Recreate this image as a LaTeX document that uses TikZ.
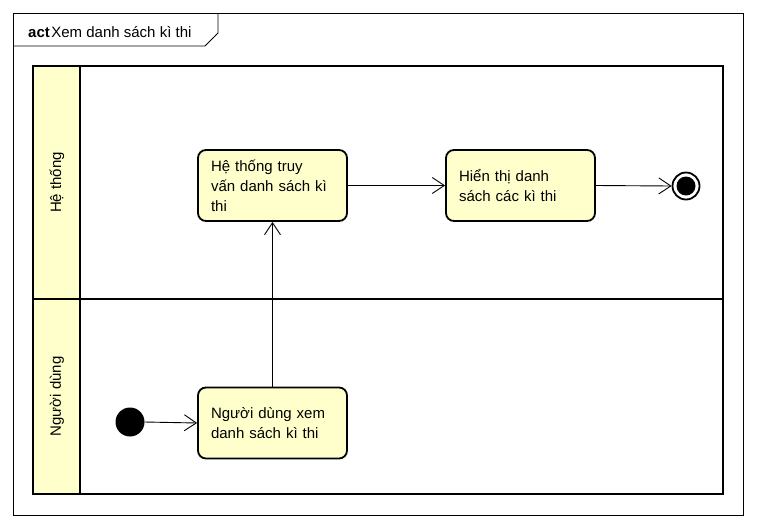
\documentclass[tikz,border=0pt]{standalone}
\usepackage{fontspec}
\setmainfont{Liberation Sans}
\usetikzlibrary{arrows.meta}
\definecolor{actfill}{RGB}{255,255,204}
\begin{document}
\begin{tikzpicture}[x=1pt,y=-1pt,
  font=\fontsize{15}{20}\selectfont,
  actbox/.style={draw,line width=1.8pt,rounded corners=8pt,fill=actfill,
    minimum width=149pt,minimum height=71pt,text width=123pt,inner xsep=13pt,
    align=left},
  flow/.style={line width=0.9pt,-{Straight Barb[length=12pt,width=16pt,line width=0.9pt]}},
  lanelabel/.style={rotate=90,inner sep=0pt},
]
\useasboundingbox (0,0) rectangle (757,528);
% outer frame
\draw[line width=0.9pt] (13,13) rectangle (743,515);
\draw[line width=0.9pt] (13,46) -- (205,46) -- (218,33) -- (218,13);
\node[anchor=base west,inner sep=0pt] (title) at (28,37) {\textbf{act}\hspace{1.5pt}Xem danh sách kì thi};
% swimlanes
\fill[actfill] (33,66) rectangle (80,494);
\draw[line width=1.8pt] (33,66) rectangle (723,494);
\draw[line width=1.8pt] (33,299) -- (723,299);
\draw[line width=1.8pt] (80,66) -- (80,494);
\node[lanelabel] (lane1) at (57,182.5) {Hệ thống};
\node[lanelabel] (lane2) at (57,396.5) {Người dùng};
% nodes
\node[actbox] (b1) at (272.5,185.5) {Hệ thống truy\\vấn danh sách kì\\thi};
\node[actbox] (b2) at (520.5,185.5) {Hiển thị danh\\sách các kì thi};
\node[actbox] (b3) at (272.5,423) {Người dùng xem\\danh sách kì thi};
\node[circle,fill=black,minimum size=29pt,inner sep=0pt] (init) at (130,422) {};
\node[circle,draw,line width=1.8pt,fill=white,minimum size=27pt,inner sep=0pt] (fin) at (686,186) {};
\node[circle,fill=black,minimum size=19pt,inner sep=0pt] (finin) at (686,186) {};
% flows
\draw[flow] (init.east) -- (b3.west);
\draw[flow] (b3.north) -- (b1.south);
\draw[flow] (b1.east) -- (b2.west);
\draw[flow] (b2.east) -- (fin.west);
\end{tikzpicture}
\end{document}
